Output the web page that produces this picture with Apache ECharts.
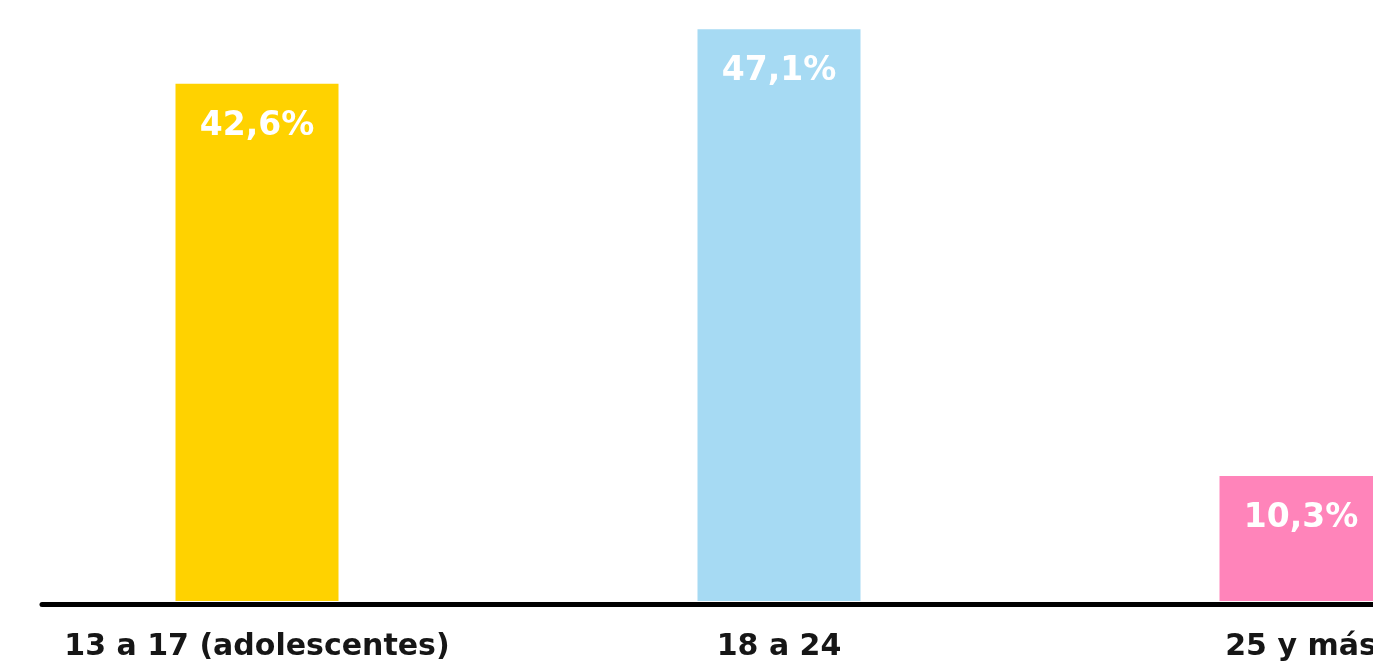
<!DOCTYPE html>
<html>
<head>
<meta charset="utf-8">
<style>
  html, body { margin: 0; padding: 0; background: #ffffff; }
  #chart { width: 1373px; height: 666px; }
</style>
<script src="https://cdn.jsdelivr.net/npm/echarts@6/dist/echarts.min.js"></script>
</head>
<body>
<div id="chart"></div>
<script>
// Age groups and their share (%)
const categories = ['13 a 17 (adolescentes)', '18 a 24', '25 y más'];
const values = [42.6, 47.1, 10.3];
const barColors = ['#FFD200', '#A6DAF3', '#FF84BA'];

const fontFamily = '"DejaVu Sans", "Open Sans", sans-serif';

const chart = echarts.init(document.getElementById('chart'), null, { renderer: 'canvas' });

chart.setOption({
  animation: false,
  backgroundColor: '#ffffff',
  grid: [
    // bars: categories sit on the grid edges, last bar runs off the right side
    { left: 257, right: 72, top: 0, bottom: 65, outerBoundsMode: 'none', containLabel: false },
    // baseline rule
    { left: 42, right: 0, top: 0, bottom: 61.5, outerBoundsMode: 'none', containLabel: false }
  ],
  xAxis: [
    {
      type: 'category',
      gridIndex: 0,
      data: categories,
      boundaryGap: false,
      axisLine: { show: false },
      axisTick: { show: false },
      axisLabel: {
        interval: 0,
        margin: 31,
        color: '#161616',
        fontFamily: fontFamily,
        fontWeight: 'bold',
        fontSize: 30
      }
    },
    {
      type: 'value',
      gridIndex: 1,
      min: 0,
      max: 1,
      axisLine: { show: true, lineStyle: { color: '#000000', width: 5 } },
      axisTick: { show: false },
      axisLabel: { show: false },
      splitLine: { show: false }
    }
  ],
  yAxis: [
    {
      type: 'value',
      gridIndex: 0,
      min: 0,
      max: 49.5,
      show: false,
      splitLine: { show: false }
    },
    {
      type: 'value',
      gridIndex: 1,
      min: 0,
      max: 1,
      show: false,
      splitLine: { show: false }
    }
  ],
  series: [
    {
      type: 'bar',
      xAxisIndex: 0,
      yAxisIndex: 0,
      barWidth: 163,
      clip: false,
      data: values.map((v, i) => ({ value: v, itemStyle: { color: barColors[i] } })),
      label: {
        show: true,
        position: 'insideTop',
        distance: 26,
        color: '#ffffff',
        fontFamily: fontFamily,
        fontWeight: 'bold',
        fontSize: 33,
        formatter: p => p.value.toFixed(1).replace('.', ',') + '%'
      }
    }
  ]
});
</script>
</body>
</html>
